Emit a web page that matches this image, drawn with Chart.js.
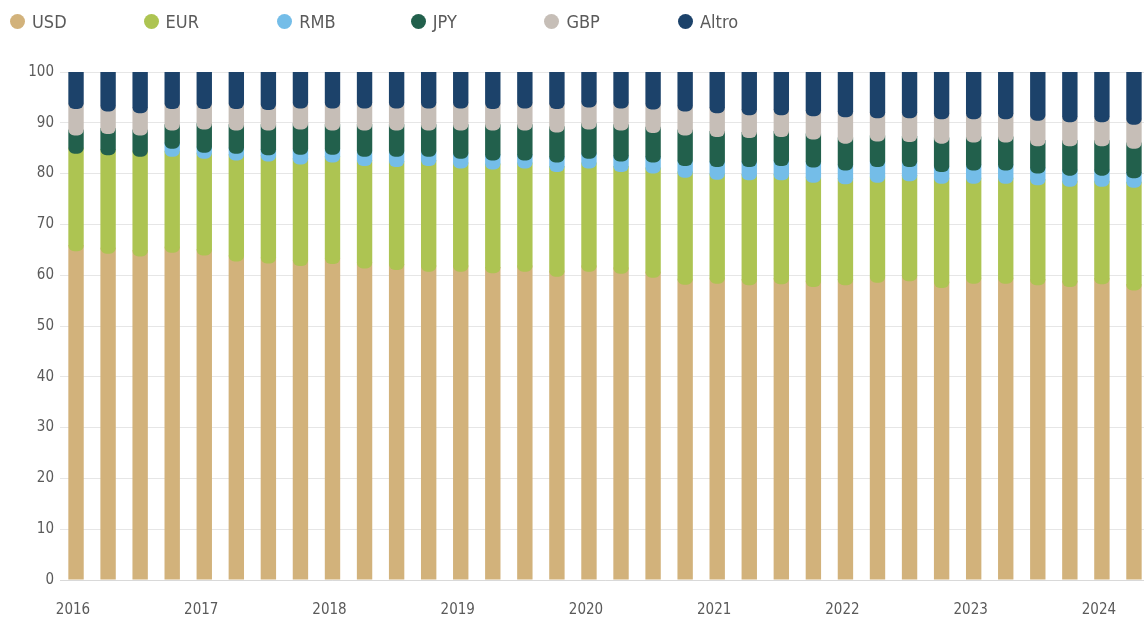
<!DOCTYPE html>
<html>
<head>
<meta charset="utf-8">
<script src="https://cdn.jsdelivr.net/npm/chart.js@4"></script>
<style>
  html, body { margin: 0; padding: 0; background: #fff; overflow: hidden; }
  #wrap { position: relative; width: 1144px; height: 619px; overflow: hidden; }
  #myChart { position: absolute; left: 0; top: 0; }
  #legend { position: absolute; left: 10px; top: 10px; display: flex; font-family: "DejaVu Sans Condensed", "DejaVu Sans", sans-serif; font-size: 18px; color: #5a5a5a; }
  #legend .item { width: 133.6px; display: flex; align-items: center; height: 22px; }
  #legend .dot { width: 15px; height: 15px; border-radius: 50%; margin-right: 7px; flex: none; }
</style>
</head>
<body>
<div id="wrap">
  <canvas id="myChart" width="1150" height="619"></canvas>
  <div id="legend"></div>
</div>
<script>
// quarters, 2016 T1 .. 2024 T2
var quarters = [
  "2016 T1", "2016 T2", "2016 T3", "2016 T4",
  "2017 T1", "2017 T2", "2017 T3", "2017 T4",
  "2018 T1", "2018 T2", "2018 T3", "2018 T4",
  "2019 T1", "2019 T2", "2019 T3", "2019 T4",
  "2020 T1", "2020 T2", "2020 T3", "2020 T4",
  "2021 T1", "2021 T2", "2021 T3", "2021 T4",
  "2022 T1", "2022 T2", "2022 T3", "2022 T4",
  "2023 T1", "2023 T2", "2023 T3", "2023 T4",
  "2024 T1", "2024 T2"
];

var usd = [64.7, 64.2, 63.7, 64.4, 63.9, 62.7, 62.3, 61.8, 62.2, 61.3, 61.0, 60.7, 60.7, 60.4, 60.7, 59.7, 60.7, 60.3, 59.5, 58.1, 58.3, 58.0, 58.2, 57.7, 58.0, 58.5, 58.8, 57.5, 58.3, 58.3, 58.0, 57.7, 58.2, 57.0];
var eur = [19.2, 19.4, 19.6, 18.9, 19.0, 19.9, 20.1, 20.0, 20.0, 20.2, 20.3, 20.8, 20.3, 20.4, 20.3, 20.6, 20.3, 20.0, 20.5, 21.1, 20.5, 20.7, 20.5, 20.5, 19.9, 19.7, 19.7, 20.5, 19.7, 19.7, 19.7, 19.7, 19.2, 20.2];
var rmb = [0, 0, 0, 1.6, 1.2, 1.3, 1.2, 1.9, 1.5, 1.8, 2.0, 1.8, 1.9, 1.8, 1.6, 1.9, 1.9, 2.1, 2.2, 2.3, 2.5, 2.6, 2.8, 3.0, 2.7, 3.1, 2.8, 2.3, 2.6, 2.6, 2.3, 2.2, 2.2, 1.9];
var jpy = [3.6, 4.2, 4.2, 3.6, 4.6, 4.6, 4.9, 5.0, 4.8, 5.2, 5.2, 5.2, 5.6, 5.9, 5.9, 5.9, 5.8, 6.1, 5.8, 6.0, 5.9, 5.7, 5.7, 5.5, 5.3, 5.0, 4.9, 5.6, 5.5, 5.5, 5.4, 5.8, 5.8, 5.8];
var gbp = [5.2, 4.4, 4.4, 4.2, 4.0, 4.2, 4.0, 4.1, 4.3, 4.3, 4.3, 4.3, 4.3, 4.2, 4.3, 4.6, 4.3, 4.3, 4.6, 4.7, 4.7, 4.5, 4.3, 4.6, 5.2, 4.6, 4.7, 4.8, 4.6, 4.6, 5.0, 4.7, 4.7, 4.7];
var altro = [7.3, 7.8, 8.1, 7.3, 7.3, 7.3, 7.5, 7.2, 7.2, 7.2, 7.2, 7.2, 7.2, 7.3, 7.2, 7.3, 7.0, 7.2, 7.4, 7.8, 8.1, 8.5, 8.5, 8.7, 8.9, 9.1, 9.1, 9.3, 9.3, 9.3, 9.6, 9.9, 9.9, 10.4];

var yTicks = [0, 10, 20, 30, 40, 50, 60, 70, 80, 90, 100];

var series = [
  { label: "USD", data: usd, color: "#d2b27b" },
  { label: "EUR", data: eur, color: "#adc452" },
  { label: "RMB", data: rmb, color: "#74bde8" },
  { label: "JPY", data: jpy, color: "#22604c" },
  { label: "GBP", data: gbp, color: "#c6beb7" },
  { label: "Altro", data: altro, color: "#1c426a" }
];

// each segment runs a little under the one above it, so the rounded
// bottom corners of the upper one show the colour below
var overlap = 1.2;
var base = quarters.map(function () { return 0; });
var datasets = series.map(function (s, k) {
  var last = k === series.length - 1;
  var d = s.data.map(function (v, i) {
    var from = base[i];
    base[i] += v;
    if (!v) return null;
    return [from, last ? from + v : from + v + overlap];
  });
  return {
    label: s.label,
    data: d,
    backgroundColor: s.color,
    borderWidth: 0,
    borderSkipped: false,
    borderRadius: k === 0 ? 0 : { topLeft: 0, topRight: 0, bottomLeft: 6, bottomRight: 6 },
    order: series.length - k,
    barPercentage: 0.48,
    categoryPercentage: 1
  };
});

var legend = document.getElementById("legend");
series.forEach(function (s) {
  var item = document.createElement("div");
  item.className = "item";
  var dot = document.createElement("span");
  dot.className = "dot";
  dot.style.background = s.color;
  var txt = document.createElement("span");
  txt.textContent = s.label;
  item.appendChild(dot);
  item.appendChild(txt);
  legend.appendChild(item);
});

var tickFont = { family: "'DejaVu Sans Condensed', 'DejaVu Sans', sans-serif", size: 15 };

var ctx = document.getElementById("myChart").getContext("2d");
var chart = new Chart(ctx, {
  type: "bar",
  data: { labels: quarters, datasets: datasets },
  options: {
    responsive: false,
    animation: false,
    layout: { padding: { top: 72, right: 0, bottom: 0, left: 0 } },
    plugins: {
      legend: { display: false },
      tooltip: { enabled: true }
    },
    scales: {
      x: {
        stacked: true,
        grid: { display: false },
        border: { color: "#d9d9d9", width: 1 },
        ticks: {
          autoSkip: false,
          maxRotation: 0,
          padding: 13,
          labelOffset: -3,
          color: "#5a5a5a",
          font: tickFont,
          callback: function (v) {
            var q = this.getLabelForValue(v);
            return q.slice(5) === "T1" ? q.slice(0, 4) : "";
          }
        },
        afterFit: function (s) { s.height = 39; }
      },
      y: {
        min: 0,
        max: 100,
        afterBuildTicks: function (s) {
          s.ticks = yTicks.map(function (v) { return { value: v }; });
        },
        grid: { color: "#e6e6e6", lineWidth: 1, drawTicks: false },
        border: { display: false },
        ticks: { padding: 6, color: "#5a5a5a", font: tickFont },
        afterFit: function (s) { s.width = 60; }
      }
    }
  }
});
</script>
</body>
</html>
